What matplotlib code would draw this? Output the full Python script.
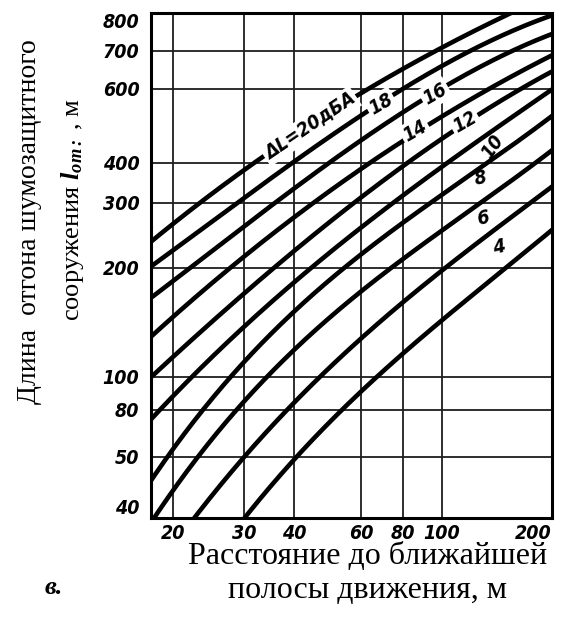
import numpy as np
import matplotlib
matplotlib.use("Agg")
import matplotlib.pyplot as plt
from matplotlib.font_manager import FontProperties
from matplotlib.ticker import FixedLocator, FixedFormatter, NullLocator

# ---------------- data ----------------
dL_labels = ["ΔL=20дБА", "18", "16", "14", "12", "10", "8", "6", "4", ""]

x_20 = [17.7, 20, 25, 30, 40, 50, 60, 80, 100, 140, 200]
y_20 = [238, 263, 318, 378, 464, 532, 597, 651, 705, 775, 858]
x_18 = [17.7, 20, 25, 30, 40, 50, 60, 80, 100, 140, 200]
y_18 = [204, 222, 266, 311, 402, 466, 520, 607, 656, 725, 797]
x_16 = [17.7, 20, 25, 30, 40, 50, 60, 80, 100, 140, 200]
y_16 = [168, 183, 220, 257, 334, 407, 456, 535, 597, 669, 748]
x_14 = [17.7, 20, 25, 30, 40, 50, 60, 80, 100, 140, 200]
y_14 = [132, 146, 177, 213, 275, 337, 391, 456, 506, 602, 694]
x_12 = [17.7, 20, 25, 30, 40, 50, 60, 80, 100, 140, 200]
y_12 = [100, 114, 142, 170, 224, 268, 311, 391, 456, 556, 643]
x_10 = [17.7, 20, 25, 30, 40, 50, 60, 80, 100, 140, 200]
y_10 = [72, 89, 114, 138, 182, 220, 258, 318, 389, 485, 597]
x_8 = [17.7, 20, 25, 30, 40, 50, 60, 80, 100, 140, 200]
y_8 = [46, 54, 85, 113, 153, 185, 214, 265, 322, 416, 515]
x_6 = [18.1, 20, 25, 30, 40, 50, 60, 80, 100, 140, 200]
y_6 = [40, 45, 58, 84, 121, 147, 172, 212, 253, 322, 430]
x_4 = [22.4, 25, 30, 40, 50, 60, 80, 100, 140, 200]
y_4 = [40, 43, 50, 86, 107, 126, 160, 199, 255, 337]
x_2 = [30.2, 40, 50, 60, 80, 100, 140, 200]
y_2 = [40, 50, 72, 90, 114, 146, 190, 253]

x_ticks = [20, 30, 40, 60, 80, 100, 200]
y_ticks = [40, 50, 80, 100, 200, 300, 400, 600, 700, 800]
x_ticklabels = ["20", "30", "40", "60", "80", "100", "200"]
y_ticklabels = ["40", "50", "80", "100", "200", "300", "400", "600", "700", "800"]

# ---------------- axis scale (grid spacing of the original nomogram) ----------------
X_POS = np.array([172.7, 244, 294, 361, 403, 442, 552]) - 150.5
Y_POS = np.array([0, 61, 108, 141, 250, 315, 355, 429, 467, 505], float)


def make_scale(vals, pos):
    L = np.log10(np.asarray(vals, float))
    P = np.asarray(pos, float)

    def fwd(v):
        v = np.asarray(v, float)
        with np.errstate(divide="ignore", invalid="ignore"):
            l = np.log10(np.where(v > 0, v, np.nan))
        out = np.interp(l, L, P)
        out = np.where(l < L[0], P[0] + (l - L[0]) * (P[1] - P[0]) / (L[1] - L[0]), out)
        out = np.where(l > L[-1], P[-1] + (l - L[-1]) * (P[-1] - P[-2]) / (L[-1] - L[-2]), out)
        return out

    def inv(p):
        p = np.asarray(p, float)
        out = np.interp(p, P, L)
        out = np.where(p < P[0], L[0] + (p - P[0]) * (L[1] - L[0]) / (P[1] - P[0]), out)
        out = np.where(p > P[-1], L[-1] + (p - P[-1]) * (L[-1] - L[-2]) / (P[-1] - P[-2]), out)
        return 10 ** out

    return fwd, inv


fx, ix = make_scale(x_ticks, X_POS)
fy, iy = make_scale(y_ticks, Y_POS)


def smooth(xd, yd, deg=3, n=300):
    """Least-squares smooth curve through the read points, in the axis' scale space."""
    tx = fx(xd)
    ty = fy(yd)
    c = np.polyfit(tx, ty, deg)
    t = np.linspace(tx[0] - 6, tx[-1] + 6, n)
    return ix(t), iy(np.polyval(c, t))


plt.rcParams["mathtext.fontset"] = "custom"
plt.rcParams["mathtext.rm"] = "Liberation Serif"
plt.rcParams["mathtext.it"] = "Liberation Serif:italic"
plt.rcParams["mathtext.bf"] = "Liberation Serif:bold"
plt.rcParams["mathtext.bfit"] = "Liberation Serif:italic:bold"

fig = plt.figure(figsize=(5.63, 6.17), dpi=100)
ax = fig.add_axes([150.5 / 563, 99 / 617, 401.5 / 563, 505 / 617])
ax.set_xscale("function", functions=(fx, ix))
ax.set_yscale("function", functions=(fy, iy))
ax.set_xlim(17.6, 200)
ax.set_ylim(40, 800)

ax.xaxis.set_major_locator(FixedLocator(x_ticks))
ax.xaxis.set_major_formatter(FixedFormatter(x_ticklabels))
ax.yaxis.set_major_locator(FixedLocator(y_ticks))
ax.yaxis.set_major_formatter(FixedFormatter(y_ticklabels))
ax.xaxis.set_minor_locator(NullLocator())
ax.yaxis.set_minor_locator(NullLocator())

tick_fp = FontProperties(family="DejaVu Sans", stretch="condensed", style="oblique",
                         weight="bold", size=14)
ax.tick_params(length=0, pad=4)
ax.tick_params(axis="y", pad=8)
for lab in ax.get_xticklabels() + ax.get_yticklabels():
    lab.set_fontproperties(tick_fp)
xl = ax.get_xticklabels()
xl[-1].set_horizontalalignment("right")
yl = ax.get_yticklabels()
yl[-1].set_verticalalignment("top")
yl[0].set_verticalalignment("bottom")

ax.grid(True, color="#1e1e1e", linewidth=1.3, zorder=1)
ax.set_axisbelow(True)
for sp in ax.spines.values():
    sp.set_linewidth(2.2)
    sp.set_color("black")
    sp.set_zorder(5)

series = [(x_20, y_20), (x_18, y_18), (x_16, y_16), (x_14, y_14), (x_12, y_12),
          (x_10, y_10), (x_8, y_8), (x_6, y_6), (x_4, y_4), (x_2, y_2)]
for xd, yd in series:
    sx, sy = smooth(xd, yd)
    ax.plot(sx, sy, color="black", linewidth=3.3, solid_capstyle="butt", zorder=3)

# curve labels (positions in axes fraction, rotation in degrees, white gap behind?)
label_pos = [(0.397, 0.776, 34, True), (0.574, 0.820, 30, True), (0.709, 0.840, 30, True),
             (0.659, 0.766, 30, True), (0.783, 0.784, 30, True), (0.853, 0.735, 55, False),
             (0.821, 0.672, 12, False), (0.828, 0.594, 12, False), (0.868, 0.535, 12, False)]
for txt, (px, py, rot, gap) in zip(dL_labels, label_pos):
    kw = {}
    if gap:
        kw["bbox"] = dict(boxstyle="square,pad=0.12", facecolor="white", edgecolor="none")
    ax.text(px, py, txt, transform=ax.transAxes, rotation=rot, rotation_mode="anchor",
            ha="center", va="center", fontfamily="DejaVu Sans", fontstretch="condensed",
            fontstyle="oblique", fontweight="bold", fontsize=14, zorder=4, **kw)

# axis titles
fig.text(30 / 563, 1 - 222 / 617, "Длина  отгона шумозащитного", rotation=90,
         ha="center", va="center", family="Liberation Serif", fontsize=20)
fig.text(73 / 563, 1 - 210 / 617, r"сооружения $\mathbfit{l}_{\mathbfit{от:}}$ , м", rotation=90,
         ha="center", va="center", family="Liberation Serif", fontsize=19)
fig.text(368 / 563, 1 - 556 / 617, "Расстояние до ближайшей",
         ha="center", va="center", family="Liberation Serif", fontsize=23)
fig.text(367 / 563, 1 - 591 / 617, "полосы движения, м",
         ha="center", va="center", family="Liberation Serif", fontsize=23)
fig.text(54 / 563, 1 - 588 / 617, "в.", ha="center", va="center",
         family="Liberation Serif", fontweight="bold", fontstyle="italic", fontsize=19)

fig.savefig("out.png", dpi=100)
